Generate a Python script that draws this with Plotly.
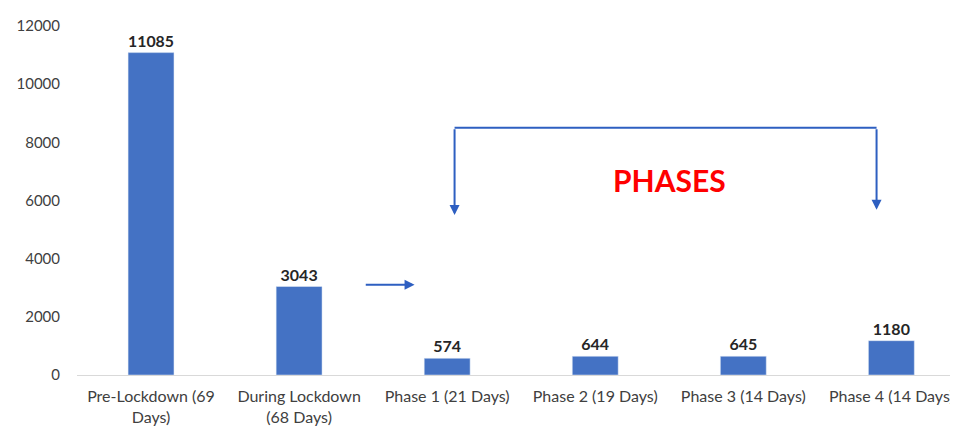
import plotly.graph_objects as go

categories = [
    "Pre-Lockdown (69<br>Days)",
    "During Lockdown<br>(68 Days)",
    "Phase 1 (21 Days)",
    "Phase 2 (19 Days)",
    "Phase 3 (14 Days)",
    "Phase 4 (14 Days)",
]
values = [11085, 3043, 574, 644, 645, 1180]
y_ticks = [0, 2000, 4000, 6000, 8000, 10000, 12000]

BAR_COLOR = "#4472C4"
ARROW_COLOR = "#2E5FC1"
TEXT_COLOR = "#404040"
FONT = "Lato, 'Noto Sans', sans-serif"

x_pos = list(range(len(categories)))

fig = go.Figure(
    go.Bar(
        x=x_pos,
        y=values,
        width=0.31,
        marker=dict(color=BAR_COLOR),
        text=values,
        texttemplate="<b>%{text}</b>",
        textposition="outside",
        textfont=dict(size=16, color="#262626", family=FONT),
        cliponaxis=False,
    )
)

# small arrow pointing from lockdown to phases
fig.add_annotation(
    x=1.78, y=3100, ax=1.44, ay=3100,
    xref="x", yref="y", axref="x", ayref="y",
    text="", showarrow=True, arrowhead=2, arrowsize=1, arrowwidth=2,
    arrowcolor=ARROW_COLOR,
)

# bracket across phases
fig.add_shape(
    type="line", x0=2.05, x1=4.9, y0=8500, y1=8500,
    xref="x", yref="y", line=dict(color=ARROW_COLOR, width=2),
)
fig.add_annotation(
    x=2.05, y=5500, ax=2.05, ay=8500,
    xref="x", yref="y", axref="x", ayref="y",
    text="", showarrow=True, arrowhead=2, arrowsize=1, arrowwidth=2,
    arrowcolor=ARROW_COLOR,
)
fig.add_annotation(
    x=4.9, y=5680, ax=4.9, ay=8500,
    xref="x", yref="y", axref="x", ayref="y",
    text="", showarrow=True, arrowhead=2, arrowsize=1, arrowwidth=2,
    arrowcolor=ARROW_COLOR,
)
fig.add_annotation(
    x=3.5, y=6700, xref="x", yref="y",
    text="<b>PHASES</b>", showarrow=False,
    font=dict(size=30, color="#FF0000", family=FONT),
)

fig.update_layout(
    width=958,
    height=426,
    margin=dict(l=60, r=8, t=13, b=57),
    paper_bgcolor="white",
    plot_bgcolor="white",
    showlegend=False,
    font=dict(family=FONT, color=TEXT_COLOR, size=15),
    xaxis=dict(
        tickmode="array",
        tickvals=x_pos,
        ticktext=categories,
        range=[-0.5, 5.45],
        showgrid=False,
        zeroline=False,
        showline=True,
        linecolor="#D9D9D9",
        linewidth=1,
        ticks="",
        ticklabelstandoff=7,
        tickfont=dict(size=16, color=TEXT_COLOR),
    ),
    yaxis=dict(
        range=[0, 12000],
        tickmode="array",
        tickvals=y_ticks,
        ticktext=[str(t) for t in y_ticks],
        showgrid=False,
        zeroline=False,
        showline=False,
        ticks="",
        ticklabelstandoff=16,
        tickfont=dict(size=15, color=TEXT_COLOR),
    ),
)

fig.write_html("out.html")
